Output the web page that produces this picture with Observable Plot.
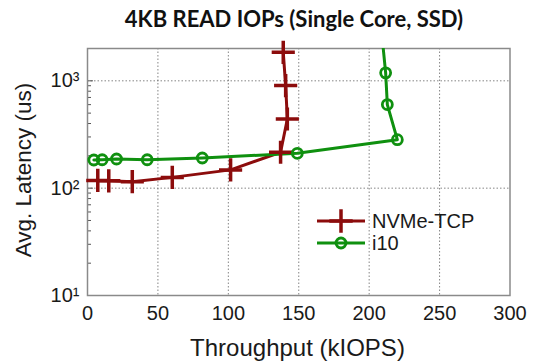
<!DOCTYPE html>
<html>
<head>
<meta charset="utf-8">
<script src="https://cdn.jsdelivr.net/npm/d3@7"></script>
<script src="https://cdn.jsdelivr.net/npm/@observablehq/plot@0.6"></script>
<style>
  body { margin: 0; background: white; }
  #wrap { position: relative; width: 533px; height: 361px; overflow: hidden; }
</style>
</head>
<body>
<div id="wrap">
  <div id="chart"></div>
</div>
<script>
const titleText = "4KB READ IOPs (Single Core, SSD)";
const xLabel = "Throughput (kIOPS)";
const yLabel = "Avg. Latency (us)";
const seriesNames = ["NVMe-TCP", "i10"];
const seriesColors = ["#8c0c0c", "#0f900f"];
const throughputNVMe = [7.3, 15.1, 31.8, 60.2, 101.6, 137.1, 141.9, 140.7, 139.0];
const latencyNVMe = [118, 117, 115, 126, 148, 216, 441, 902, 1842];
const throughputI10 = [4.5, 10.4, 20.6, 42.4, 81.5, 149.0, 220.0, 212.9, 211.7, 209.4];
const latencyI10 = [183, 184, 187, 184, 191, 211, 283, 601, 1186, 2400];
const xTicks = [0, 50, 100, 150, 200, 250, 300];
const yTicks = [10, 100, 1000];
const yTickLabels = ["10¹", "10²", "10³"];
const yMinor = [20, 30, 40, 50, 60, 70, 80, 90, 200, 300, 400, 500, 600, 700, 800, 900];

const nvme = throughputNVMe.map((x, i) => ({x, y: latencyNVMe[i]}));
const i10 = throughputI10.map((x, i) => ({x, y: latencyI10[i]}));
const i10Visible = i10.filter(d => d.y <= 2000);
const blank = () => "";

const chart = Plot.plot({
  width: 533,
  height: 361,
  marginLeft: 87,
  marginRight: 23.5,
  marginTop: 48,
  marginBottom: 66,
  style: { fontFamily: "'Liberation Sans', Arial, sans-serif", fontSize: "20px", color: "#1a1a1a", background: "white", overflow: "visible" },
  x: { domain: [0, 300] },
  y: { type: "log", domain: [10, 2000] },
  marks: [
    Plot.gridX(xTicks.slice(1, -1), { stroke: "#666", strokeOpacity: 0.8, strokeDasharray: "1.5,2" }),
    Plot.gridY([100, 1000], { stroke: "#666", strokeOpacity: 0.8, strokeDasharray: "1.5,2" }),
    Plot.axisX({ ticks: xTicks, tickSize: 0, tickPadding: 10, label: null, fontSize: 20 }),
    Plot.axisY({ ticks: yTicks, tickSize: 0, tickPadding: 8, label: null, fontSize: 20,
      tickFormat: d => yTickLabels[yTicks.indexOf(d)] }),
    Plot.axisY({ ticks: yMinor, tickSize: 4, dx: 4, tickFormat: blank, label: null, stroke: "#555" }),
    Plot.axisY({ ticks: yTicks, tickSize: 6, dx: 6, tickFormat: blank, label: null, stroke: "#555" }),
    Plot.frame({ stroke: "#8a8a8a", strokeWidth: 1.5 }),
    Plot.line(nvme, { x: "x", y: "y", stroke: seriesColors[0], strokeWidth: 3, clip: true }),
    Plot.line(i10, { x: "x", y: "y", stroke: seriesColors[1], strokeWidth: 3, clip: true }),
    Plot.dot(nvme, { x: "x", y: "y", symbol: "plus", r: 7.5, stroke: seriesColors[0], strokeWidth: 3.5 }),
    Plot.dot(i10Visible, { x: "x", y: "y", symbol: "circle", r: 5, stroke: seriesColors[1], strokeWidth: 2.8, fill: "none" })
  ]
});
document.getElementById("chart").appendChild(chart);

// overlay: title, axis labels, legend
const ns = "http://www.w3.org/2000/svg";
const ov = document.createElementNS(ns, "svg");
ov.setAttribute("width", 533); ov.setAttribute("height", 361);
ov.style.position = "absolute"; ov.style.left = "0"; ov.style.top = "0";
function addText(str, attrs) {
  const t = document.createElementNS(ns, "text");
  for (const k in attrs) t.setAttribute(k, attrs[k]);
  t.textContent = str;
  ov.appendChild(t);
  return t;
}
addText(titleText, { x: 294, y: 27, "text-anchor": "middle", "font-family": "Lato, sans-serif", "font-weight": "bold", "font-size": 22, fill: "#111" });
addText(xLabel, { x: 297.5, y: 356, "text-anchor": "middle", "font-family": "'Liberation Sans', Arial, sans-serif", "font-size": 24, fill: "#1a1a1a" });
addText(yLabel, { x: 0, y: 0, transform: "translate(31,170) rotate(-90)", "text-anchor": "middle", "font-family": "'Liberation Sans', Arial, sans-serif", "font-size": 22.5, fill: "#1a1a1a" });

const rows = [{y: 221, sym: "plus"}, {y: 243, sym: "circle"}];
rows.forEach((r, i) => {
  const c = seriesColors[i];
  const ln = document.createElementNS(ns, "line");
  ln.setAttribute("x1", 317); ln.setAttribute("x2", 365); ln.setAttribute("y1", r.y); ln.setAttribute("y2", r.y);
  ln.setAttribute("stroke", c); ln.setAttribute("stroke-width", 3);
  ov.appendChild(ln);
  const p = document.createElementNS(ns, "path");
  const sym = d3.symbol(r.sym === "plus" ? d3.symbolPlus : d3.symbolCircle, r.sym === "plus" ? 180 : 78)();
  p.setAttribute("d", sym);
  p.setAttribute("transform", `translate(341,${r.y})`);
  p.setAttribute("stroke", c);
  p.setAttribute("stroke-width", r.sym === "plus" ? 3.5 : 2.8);
  p.setAttribute("fill", "none");
  ov.appendChild(p);
  addText(seriesNames[i], { x: 372, y: r.y + 7, "font-family": "'Liberation Sans', Arial, sans-serif", "font-size": 20, fill: "#1a1a1a" });
});
document.getElementById("wrap").appendChild(ov);
</script>
</body>
</html>
